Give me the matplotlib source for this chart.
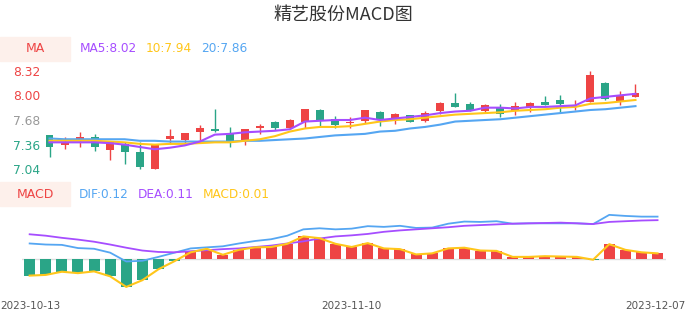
import matplotlib.pyplot as plt
from matplotlib.patches import Rectangle

plt.rcParams['font.family'] = ['DejaVu Sans', 'Noto Sans CJK SC']

# Data
dates = ["2023-10-13", "2023-10-16", "2023-10-17", "2023-10-18", "2023-10-19", "2023-10-20",
         "2023-10-23", "2023-10-24", "2023-10-25", "2023-10-26", "2023-10-27", "2023-10-30",
         "2023-10-31", "2023-11-01", "2023-11-02", "2023-11-03", "2023-11-06", "2023-11-07",
         "2023-11-08", "2023-11-09", "2023-11-10", "2023-11-13", "2023-11-14", "2023-11-15",
         "2023-11-16", "2023-11-17", "2023-11-20", "2023-11-21", "2023-11-22", "2023-11-23",
         "2023-11-24", "2023-11-27", "2023-11-28", "2023-11-29", "2023-11-30", "2023-12-01",
         "2023-12-04", "2023-12-05", "2023-12-06", "2023-12-07"]

open_ = [7.48, 7.35, 7.43, 7.46, 7.29, 7.37, 7.26, 7.04, 7.43, 7.42,
         7.52, 7.56, 7.51, 7.42, 7.57, 7.66, 7.58, 7.66, 7.81, 7.69,
         7.64, 7.67, 7.79, 7.71, 7.75, 7.67, 7.80, 7.90, 7.89, 7.80,
         7.85, 7.80, 7.85, 7.91, 7.94, 7.85, 7.91, 8.16, 7.93, 7.98]
close = [7.33, 7.38, 7.46, 7.33, 7.39, 7.26, 7.07, 7.36, 7.47, 7.51,
         7.57, 7.54, 7.41, 7.56, 7.60, 7.57, 7.68, 7.82, 7.67, 7.61,
         7.66, 7.81, 7.69, 7.76, 7.65, 7.77, 7.90, 7.85, 7.80, 7.87,
         7.76, 7.86, 7.90, 7.88, 7.89, 7.86, 8.27, 7.95, 8.01, 8.03]
high = [7.49, 7.46, 7.52, 7.50, 7.39, 7.39, 7.39, 7.37, 7.56, 7.51,
        7.62, 7.82, 7.59, 7.56, 7.63, 7.67, 7.69, 7.82, 7.82, 7.73,
        7.72, 7.81, 7.80, 7.77, 7.75, 7.80, 7.92, 8.03, 7.91, 7.89,
        7.89, 7.92, 7.92, 7.99, 8.00, 7.94, 8.32, 8.17, 8.05, 8.15]
low = [7.20, 7.31, 7.33, 7.28, 7.16, 7.11, 7.04, 7.04, 7.37, 7.37,
       7.42, 7.53, 7.33, 7.35, 7.50, 7.55, 7.56, 7.57, 7.60, 7.57,
       7.57, 7.64, 7.60, 7.63, 7.65, 7.65, 7.76, 7.85, 7.80, 7.79,
       7.72, 7.75, 7.78, 7.88, 7.79, 7.81, 7.91, 7.94, 7.87, 7.98]

ma5 = [7.39, 7.39, 7.39, 7.39, 7.38, 7.36, 7.33, 7.30, 7.32, 7.35,
       7.40, 7.49, 7.50, 7.52, 7.53, 7.54, 7.56, 7.66, 7.67, 7.68,
       7.68, 7.71, 7.68, 7.70, 7.72, 7.74, 7.77, 7.79, 7.80, 7.84,
       7.84, 7.83, 7.85, 7.85, 7.86, 7.87, 7.96, 7.98, 8.00, 8.02]
ma10 = [7.41, 7.41, 7.41, 7.41, 7.40, 7.39, 7.37, 7.36, 7.37, 7.37,
        7.38, 7.39, 7.39, 7.41, 7.43, 7.47, 7.53, 7.57, 7.59, 7.59,
        7.60, 7.63, 7.66, 7.68, 7.69, 7.71, 7.73, 7.75, 7.76, 7.77,
        7.78, 7.80, 7.81, 7.82, 7.84, 7.85, 7.89, 7.90, 7.92, 7.94]
ma20 = [7.44, 7.43, 7.43, 7.43, 7.43, 7.43, 7.41, 7.41, 7.40, 7.40,
        7.40, 7.40, 7.40, 7.41, 7.41, 7.42, 7.43, 7.44, 7.46, 7.48,
        7.49, 7.50, 7.53, 7.54, 7.57, 7.59, 7.62, 7.66, 7.67, 7.68,
        7.69, 7.71, 7.73, 7.75, 7.77, 7.79, 7.81, 7.82, 7.84, 7.86]

dif = [0.044, 0.041, 0.040, 0.031, 0.029, 0.018, -0.007, -0.005, 0.006, 0.018,
       0.030, 0.033, 0.036, 0.044, 0.051, 0.056, 0.066, 0.084, 0.087, 0.084,
       0.086, 0.093, 0.091, 0.094, 0.088, 0.089, 0.100, 0.106, 0.105, 0.107,
       0.100, 0.101, 0.101, 0.101, 0.101, 0.099, 0.125, 0.122, 0.120, 0.120]
dea = [0.070, 0.066, 0.060, 0.055, 0.049, 0.041, 0.032, 0.024, 0.020, 0.019,
       0.022, 0.025, 0.028, 0.030, 0.034, 0.038, 0.044, 0.050, 0.058, 0.064,
       0.067, 0.071, 0.077, 0.081, 0.084, 0.087, 0.090, 0.094, 0.096, 0.098,
       0.100, 0.101, 0.102, 0.103, 0.101, 0.099, 0.105, 0.107, 0.109, 0.110]
macd = [-0.047, -0.045, -0.036, -0.040, -0.035, -0.049, -0.079, -0.060, -0.029, -0.006,
        0.019, 0.029, 0.012, 0.026, 0.033, 0.034, 0.043, 0.064, 0.059, 0.043,
        0.034, 0.045, 0.030, 0.028, 0.013, 0.016, 0.030, 0.032, 0.024, 0.023,
        0.006, 0.006, 0.008, 0.007, 0.006, -0.002, 0.042, 0.026, 0.019, 0.016]

price_ticks = [7.04, 7.36, 7.68, 8.00, 8.32]
price_tick_colors = ["#2aa587", "#2aa587", "#999999", "#ee4444", "#ee4444"]

RED = "#ee4444"
GREEN = "#2aa587"
PURPLE = "#a64dff"
YELLOW = "#ffc61a"
BLUE = "#55a6f2"

W, H = 686, 320
fig = plt.figure(figsize=(W / 100, H / 100), dpi=100)

def fx(x):
    return x / W

def fy(y):
    return 1 - y / H

x = list(range(len(dates)))

# Candlestick panel
ax1 = fig.add_axes([fx(42), fy(169.3), fx(601), 98.6 / H])
ax1.set_xlim(-0.5, len(dates) - 0.5)
ax1.set_ylim(7.04, 8.32)
for i in x:
    c = RED if close[i] >= open_[i] else GREEN
    ax1.vlines(i, low[i], high[i], color=c, lw=1, clip_on=False, zorder=2)
    h = max(abs(close[i] - open_[i]), 0.012)
    ax1.bar(i, h, bottom=min(open_[i], close[i]), width=0.53, color=c, clip_on=False, zorder=3)
ax1.plot(x, ma20, color=BLUE, lw=1.5, zorder=4)
ax1.plot(x, ma10, color=YELLOW, lw=1.5, zorder=4)
ax1.plot(x, ma5, color=PURPLE, lw=1.5, zorder=5)
ax1.set_yticks(price_ticks)
ax1.set_yticklabels(["%.2f" % t for t in price_ticks])
for lbl, col in zip(ax1.get_yticklabels(), price_tick_colors):
    lbl.set_color(col)
ax1.tick_params(axis='y', length=0, pad=1, labelsize=8.8)
ax1.set_xticks([])
for s in ax1.spines.values():
    s.set_visible(False)

# MACD panel
ax2 = fig.add_axes([fx(21.6), fy(290.8), fx(644), 77.7 / H])
ax2.set_xlim(-0.5, len(dates) - 0.5)
ax2.set_ylim(-0.09, 0.13)
ax2.axhline(0, color="#dddddd", lw=1, zorder=1)
bar_colors = [RED if v >= 0 else GREEN for v in macd]
ax2.bar(x, macd, width=0.68, color=bar_colors, zorder=2)
ax2.plot(x, dif, color=BLUE, lw=1.3, zorder=3)
ax2.plot(x, dea, color=PURPLE, lw=1.3, zorder=3)
ax2.plot(x, macd, color=YELLOW, lw=1.5, zorder=4)
ax2.set_yticks([])
ax2.set_xticks([0, 20, 39])
ax2.set_xticklabels([dates[0], dates[20], dates[39]])
ax2.tick_params(axis='x', length=0, pad=7, labelsize=7.5, labelcolor="#555555")
# keep the end labels inside the figure, like the original
xl = ax2.get_xticklabels()
xl[0].set_horizontalalignment("left")
xl[-1].set_horizontalalignment("right")
for s in ax2.spines.values():
    s.set_visible(False)
fig.canvas.draw()
# shift end labels so they sit flush with the figure edges
from matplotlib.transforms import ScaledTranslation
xl[0].set_transform(xl[0].get_transform() + ScaledTranslation(-29.7 / 100, 0, fig.dpi_scale_trans))
xl[-1].set_transform(xl[-1].get_transform() + ScaledTranslation(28 / 100, 0, fig.dpi_scale_trans))

# Title
fig.text(fx(343), fy(15), "精艺股份MACD图", ha="center", va="center", fontsize=13,
         color="#333333", family=["Noto Sans CJK SC", "DejaVu Sans"])

# Legends
for ytop, name in [(37, "MA"), (182, "MACD")]:
    fig.patches.append(Rectangle((0, fy(ytop + 24)), fx(70), 24 / H,
                                 transform=fig.transFigure, color="#fdf0eb", zorder=0))
    fig.text(fx(35), fy(ytop + 12), name, ha="center", va="center", fontsize=9, color=RED)

for xs, txt, col in [(80, "MA5:8.02", PURPLE), (146, "10:7.94", YELLOW), (201, "20:7.86", BLUE)]:
    fig.text(fx(xs), fy(49), txt, ha="left", va="center", fontsize=8.7, color=col)
for xs, txt, col in [(79, "DIF:0.12", BLUE), (138, "DEA:0.11", PURPLE), (203, "MACD:0.01", YELLOW)]:
    fig.text(fx(xs), fy(194), txt, ha="left", va="center", fontsize=8.7, color=col)

fig.savefig("out.png", dpi=100)
